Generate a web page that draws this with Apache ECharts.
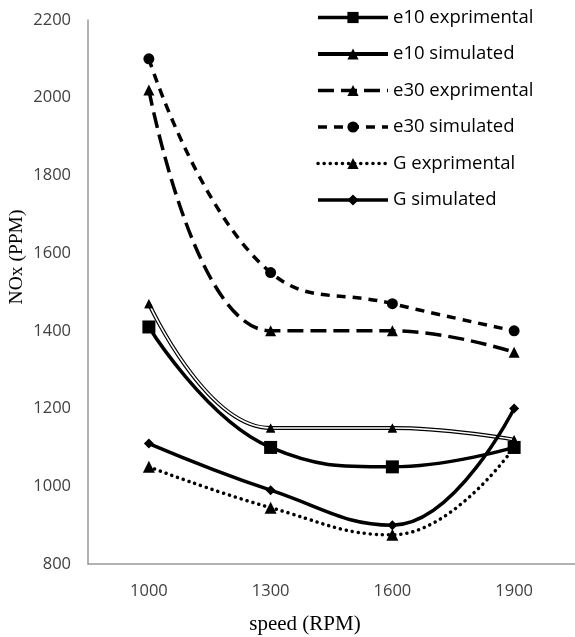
<!DOCTYPE html>
<html><head><meta charset="utf-8">
<script src="https://cdn.jsdelivr.net/npm/echarts@6/dist/echarts.min.js"></script>
<style>html,body{margin:0;padding:0;background:#fff}#c{width:575px;height:637px}</style>
</head><body><div id="c"></div>
<script>
const categories = ['1000', '1300', '1600', '1900'];
const e10Exp = [1410, 1100, 1050, 1100];
const e10Sim = [1470, 1150, 1150, 1120];
const e30Exp = [2020, 1400, 1400, 1345];
const e30Sim = [2100, 1550, 1470, 1400];
const gExp = [1050, 945, 875, 1100];
const gSim = [1110, 990, 900, 1200];
const legendNames = ['e10 exprimental', 'e10 simulated', 'e30 exprimental', 'e30 simulated', 'G exprimental', 'G simulated'];

const chart = echarts.init(document.getElementById('c'), null, {renderer: 'canvas'});
const tickFont = {fontFamily: 'Open Sans', fontSize: 16.5, color: '#404040'};
const SM = 0.45;
const LW = 3.5;
chart.setOption({
  animation: false,
  backgroundColor: '#fff',
  grid: {left: 88, top: 20, right: 0, bottom: 73},
  legend: {
    data: legendNames.map((n, i) => ({name: n, lineStyle: {width: i === 1 ? 4 : LW}})),
    orient: 'vertical',
    left: 311, top: 3,
    itemWidth: 70, itemHeight: 14, itemGap: 17.5,
    textStyle: {fontFamily: 'Open Sans', fontSize: 18.5, color: '#000'}
  },
  xAxis: {
    type: 'category', data: categories, boundaryGap: true,
    axisLine: {lineStyle: {color: '#999', width: 1.5}},
    axisTick: {show: false},
    axisLabel: Object.assign({margin: 19}, tickFont)
  },
  yAxis: {
    type: 'value', min: 800, max: 2200, interval: 200,
    axisLine: {show: true, lineStyle: {color: '#999', width: 1.5}},
    axisTick: {show: false},
    splitLine: {show: false},
    axisLabel: Object.assign({margin: 17, formatter: v => String(v)}, tickFont)
  },
  graphic: [{
    type: 'text', x: 17, y: 257, rotation: Math.PI / 2,
    style: {text: 'NOx (PPM)', align: 'center', verticalAlign: 'middle',
      font: '19.5px "Liberation Serif"', fill: '#000'}
  }, {
    type: 'text', x: 305, y: 624,
    style: {text: 'speed (RPM)', align: 'center', verticalAlign: 'middle',
      font: '21px "Liberation Serif"', fill: '#000'}
  }],
  series: [
    {name: legendNames[0], type: 'line', data: e10Exp, smooth: SM,
      symbol: 'rect', symbolSize: 13, itemStyle: {color: '#000'},
      lineStyle: {color: '#000', width: LW}},
    {name: legendNames[1], type: 'line', data: e10Sim, smooth: SM,
      symbol: 'triangle', symbolSize: 9, itemStyle: {color: '#000'},
      lineStyle: {color: '#000', width: 4}},
    {name: 'e10inner', type: 'line', data: e10Sim, smooth: SM,
      symbol: 'triangle', symbolSize: 9, itemStyle: {color: '#000'},
      lineStyle: {color: '#fff', width: 1.6}},
    {name: legendNames[2], type: 'line', data: e30Exp, smooth: SM,
      symbol: 'triangle', symbolSize: 11, itemStyle: {color: '#000'},
      lineStyle: {color: '#000', width: LW, type: [16, 7]}},
    {name: legendNames[3], type: 'line', data: e30Sim, smooth: SM,
      symbol: 'circle', symbolSize: 11, itemStyle: {color: '#000'},
      lineStyle: {color: '#000', width: LW, type: [9, 7]}},
    {name: legendNames[4], type: 'line', data: gExp, smooth: SM,
      symbol: 'triangle', symbolSize: 12, itemStyle: {color: '#000'},
      lineStyle: {color: '#000', width: LW, type: [0.1, 6], cap: 'round'}},
    {name: legendNames[5], type: 'line', data: gSim, smooth: SM,
      symbol: 'diamond', symbolSize: 10, itemStyle: {color: '#000'},
      lineStyle: {color: '#000', width: LW}}
  ]
});
</script></body></html>
